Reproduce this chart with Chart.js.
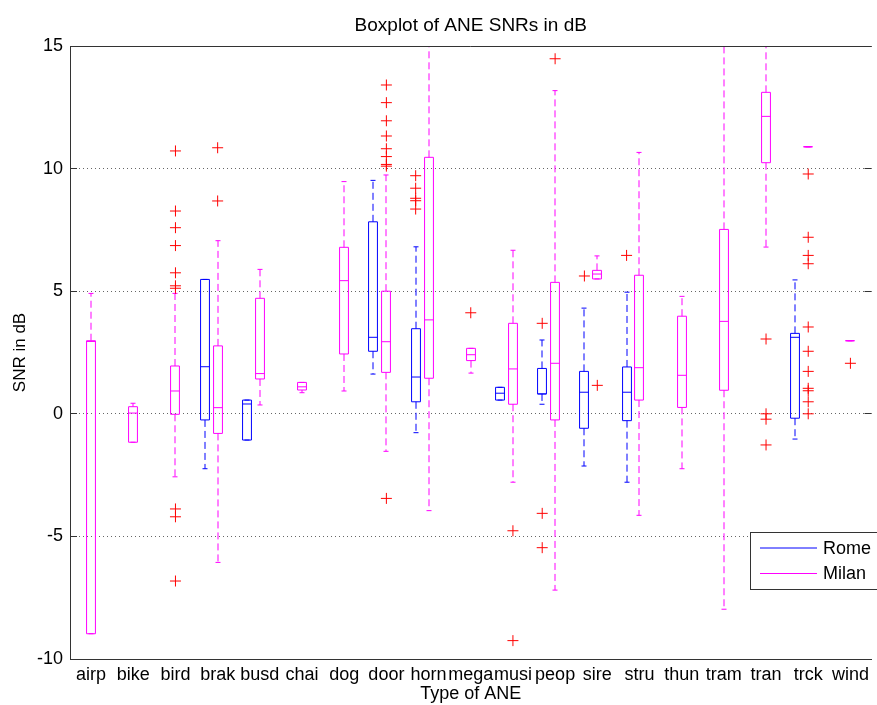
<!DOCTYPE html>
<html><head><meta charset="utf-8">
<script src="https://cdn.jsdelivr.net/npm/chart.js@4/dist/chart.umd.min.js"></script>
<style>html,body{margin:0;padding:0;background:#fff;overflow:hidden;}#wrap{width:878px;height:705px;}</style>
</head><body><div id="wrap"><canvas id="c" width="878" height="705"></canvas></div>
<script>
// ---------- data ----------
const categories = ['airp','bike','bird','brak','busd','chai','dog','door','horn','mega','musi','peop','sire','stru','thun','tram','tran','trck','wind'];
const seriesNames = ['Rome','Milan'];

const romeLow  = [null,null,null,-2.24,-1.07,null,null,1.62,-0.77,null,0.56,0.39,-2.13,-2.79,null,null,null,-1.03,null];
const romeQ1   = [null,null,null,-0.25,-1.07,null,null,2.55, 0.49,null,0.56,0.81,-0.59,-0.28,null,null,null,-0.18,null];
const romeMed  = [null,null,null, 1.92, 0.40,null,null,3.12, 1.50,null,0.84,0.81, 0.88, 0.88,null,null,null, 3.12,null];
const romeQ3   = [null,null,null, 5.48, 0.56,null,null,7.83, 3.47,null,1.08,1.85, 1.73, 1.91,null,null,null, 3.28,null];
const romeHigh = [null,null,null, 5.48, 0.56,null,null,9.52, 6.81,null,1.08,3.01, 4.31, 4.96,null,null,null, 5.46,null];
const romeOutliers = [[],[],[],[],[],[],[],[],[9.71,9.20,8.79,8.69,8.35],[],[],[3.69,-4.06,-5.46],[5.62],[6.46],[],[],[],[],[]];

const milanLow  = [-8.97,-1.16,-2.57,-6.06,0.36,0.86,0.93,-1.53,-3.95,1.66,-2.79,-7.19,5.50,-4.14,-2.24,-7.97, 6.80,10.89,2.98];
const milanQ1   = [-8.97,-1.16,-0.02,-0.80,1.42,0.97,2.44, 1.69, 1.45,2.17, 0.39,-0.25,5.50, 0.56, 0.26, 0.96,10.24,10.89,2.98];
const milanMed  = [ 2.95, 0.03, 0.93, 0.25,1.64,1.10,5.43, 2.94, 3.83,2.41, 1.83, 2.06,5.70, 1.88, 1.57, 3.77,12.13,10.89,2.98];
const milanQ3   = [ 2.98, 0.29, 1.95, 2.77,4.71,1.28,6.79, 5.00,10.46,2.67, 3.69, 5.36,5.85, 5.65, 3.98, 7.52,13.11,10.89,2.98];
const milanHigh = [ 4.91, 0.43, 4.91, 7.06,5.89,1.28,9.47, 9.74,17.00,2.67, 6.67,13.18,6.44,10.66, 4.79,17.00,17.00,10.89,2.98];
const milanOutliers = [[],[],[10.72,8.27,7.59,6.86,5.75,5.22,5.12,-3.88,-4.20,-6.82],[10.85,8.68],[],[],[],
  [13.41,12.69,11.95,11.33,10.81,10.49,10.17,10.10,-3.45],[],[4.12],[-4.77,-9.25],[14.48],[1.16],[],[],[],
  [3.05,0.00,-0.22,-1.27],[9.78,7.20,6.46,6.12,3.54,2.55,1.73,1.04,0.94,0.49,0.00],[2.06]];

const yTicks = [-10,-5,0,5,10,15];

// ---------- styles ----------
const FONT = 'Liberation Sans, Arial, Helvetica, sans-serif';
const ROME_COLOR = '#0000ff';
const MILAN_COLOR = '#ff00ff';
const OUTLIER_COLOR = '#ff0000';
const AXIS_COLOR = '#333333';
const ROME_OFFSET = -0.306;
const BOX_WIDTH = 0.21;

const series = [
  {name: seriesNames[0], color: ROME_COLOR, offset: ROME_OFFSET, low: romeLow, q1: romeQ1, med: romeMed, q3: romeQ3, high: romeHigh},
  {name: seriesNames[1], color: MILAN_COLOR, offset: 0, low: milanLow, q1: milanQ1, med: milanMed, q3: milanQ3, high: milanHigh}
];

function outlierPoints(list, offset) {
  const pts = [];
  list.forEach((vals, i) => vals.forEach(v => pts.push({x: i + offset, y: v})));
  return pts;
}

const crisp = v => Math.round(v - 0.5) + 0.5;

const boxPlugin = {
  id: 'boxes',
  beforeDatasetsDraw(chart) {
    const {ctx, chartArea: a, scales: {x, y}} = chart;
    ctx.save();
    ctx.beginPath();
    ctx.rect(a.left, a.top, a.right - a.left, a.bottom - a.top);
    ctx.clip();
    ctx.lineWidth = 1;
    const half = (x.getPixelForValue(BOX_WIDTH) - x.getPixelForValue(0)) / 2;
    series.forEach(s => {
      ctx.strokeStyle = s.color;
      for (let i = 0; i < categories.length; i++) {
        if (s.q1[i] == null) continue;
        const cx = Math.round(x.getPixelForValue(i + s.offset));
        const l = cx - half, r = cx + half;
        const yq1 = y.getPixelForValue(s.q1[i]);
        const yq3 = y.getPixelForValue(s.q3[i]);
        const ym = y.getPixelForValue(s.med[i]);
        const ylo = y.getPixelForValue(s.low[i]);
        const yhi = y.getPixelForValue(s.high[i]);
        // whiskers
        ctx.setLineDash([7, 4]);
        ctx.beginPath();
        if (yhi < yq3) { ctx.moveTo(cx, yq3); ctx.lineTo(cx, yhi); }
        if (ylo > yq1) { ctx.moveTo(cx, yq1); ctx.lineTo(cx, ylo); }
        ctx.stroke();
        ctx.setLineDash([]);
        // caps
        ctx.beginPath();
        ctx.moveTo(cx - 2.5, yhi); ctx.lineTo(cx + 2.5, yhi);
        ctx.moveTo(cx - 2.5, ylo); ctx.lineTo(cx + 2.5, ylo);
        ctx.stroke();
        // box
        ctx.beginPath();
        ctx.rect(l, yq3, r - l, yq1 - yq3);
        ctx.moveTo(l, ym); ctx.lineTo(r, ym);
        ctx.stroke();
      }
    });
    ctx.restore();
  },
  afterDraw(chart) {
    const {ctx, chartArea: a, scales: {x, y}} = chart;
    ctx.save();
    ctx.strokeStyle = AXIS_COLOR;
    ctx.lineWidth = 1;
    ctx.beginPath();
    // top border
    ctx.moveTo(a.left, crisp(a.top)); ctx.lineTo(a.right, crisp(a.top));
    // inner ticks
    y.ticks.forEach(t => {
      const py = crisp(y.getPixelForValue(t.value));
      ctx.moveTo(a.left, py); ctx.lineTo(a.left + 7, py);
      ctx.moveTo(a.right - 7, py); ctx.lineTo(a.right, py);
    });
    ctx.stroke();
    // legend
    const lx = 750.5, ly = 532.5, lw = 130, lh = 57;
    ctx.fillStyle = '#fff';
    ctx.fillRect(lx, ly, lw, lh);
    ctx.strokeStyle = AXIS_COLOR;
    ctx.strokeRect(lx, ly, lw, lh);
    ctx.font = '18px ' + FONT;
    ctx.textBaseline = 'middle';
    ctx.textAlign = 'left';
    series.forEach((s, k) => {
      const yy = ly + 15.5 + k * 25.5;
      ctx.strokeStyle = s.color;
      ctx.beginPath();
      ctx.moveTo(760, yy); ctx.lineTo(817, yy);
      ctx.stroke();
      ctx.fillStyle = '#000';
      ctx.fillText(s.name, 823, yy + 1);
    });
    ctx.restore();
  }
};

new Chart(document.getElementById('c'), {
  type: 'scatter',
  data: {
    datasets: [
      {label: 'Rome outliers', data: outlierPoints(romeOutliers, ROME_OFFSET)},
      {label: 'Milan outliers', data: outlierPoints(milanOutliers, 0)}
    ].map(d => Object.assign(d, {
      pointStyle: 'cross', pointRadius: 5.5, pointHoverRadius: 5.5,
      borderColor: OUTLIER_COLOR, backgroundColor: OUTLIER_COLOR, borderWidth: 1, showLine: false
    }))
  },
  options: {
    responsive: false,
    animation: false,
    events: [],
    layout: {padding: 0},
    plugins: {
      legend: {display: false},
      tooltip: {enabled: false},
      title: {
        display: true, text: 'Boxplot of ANE SNRs in dB', color: '#000', fullSize: false,
        font: {family: FONT, size: 19, weight: 'normal'},
        padding: {top: 14, bottom: 9.2}
      }
    },
    scales: {
      x: {
        type: 'linear', min: -0.5, max: 18.5,
        afterBuildTicks: s => { s.ticks = categories.map((c, i) => ({value: i})); },
        afterFit: s => { s.height = 46; },
        ticks: {
          callback: v => categories[v], color: '#000', autoSkip: false, maxRotation: 0,
          font: {family: FONT, size: 18}, padding: 5
        },
        grid: {display: false, drawTicks: false},
        border: {display: true, color: AXIS_COLOR},
        title: {display: true, text: 'Type of ANE', color: '#000', font: {family: FONT, size: 18}, padding: {top: 0, bottom: 0}}
      },
      y: {
        min: -10, max: 15,
        afterBuildTicks: s => { s.ticks = yTicks.map(v => ({value: v})); },
        afterFit: s => { s.width = 70; },
        ticks: {color: '#000', font: {family: FONT, size: 18}, padding: 7},
        grid: {color: 'rgba(0,0,0,0.6)', drawTicks: false},
        border: {display: true, color: AXIS_COLOR, dash: [1, 3]},
        title: {display: true, text: 'SNR in dB', color: '#000', font: {family: FONT, size: 17}, padding: {top: 10, bottom: 0}}
      }
    }
  },
  plugins: [boxPlugin]
});
</script>
</body></html>
